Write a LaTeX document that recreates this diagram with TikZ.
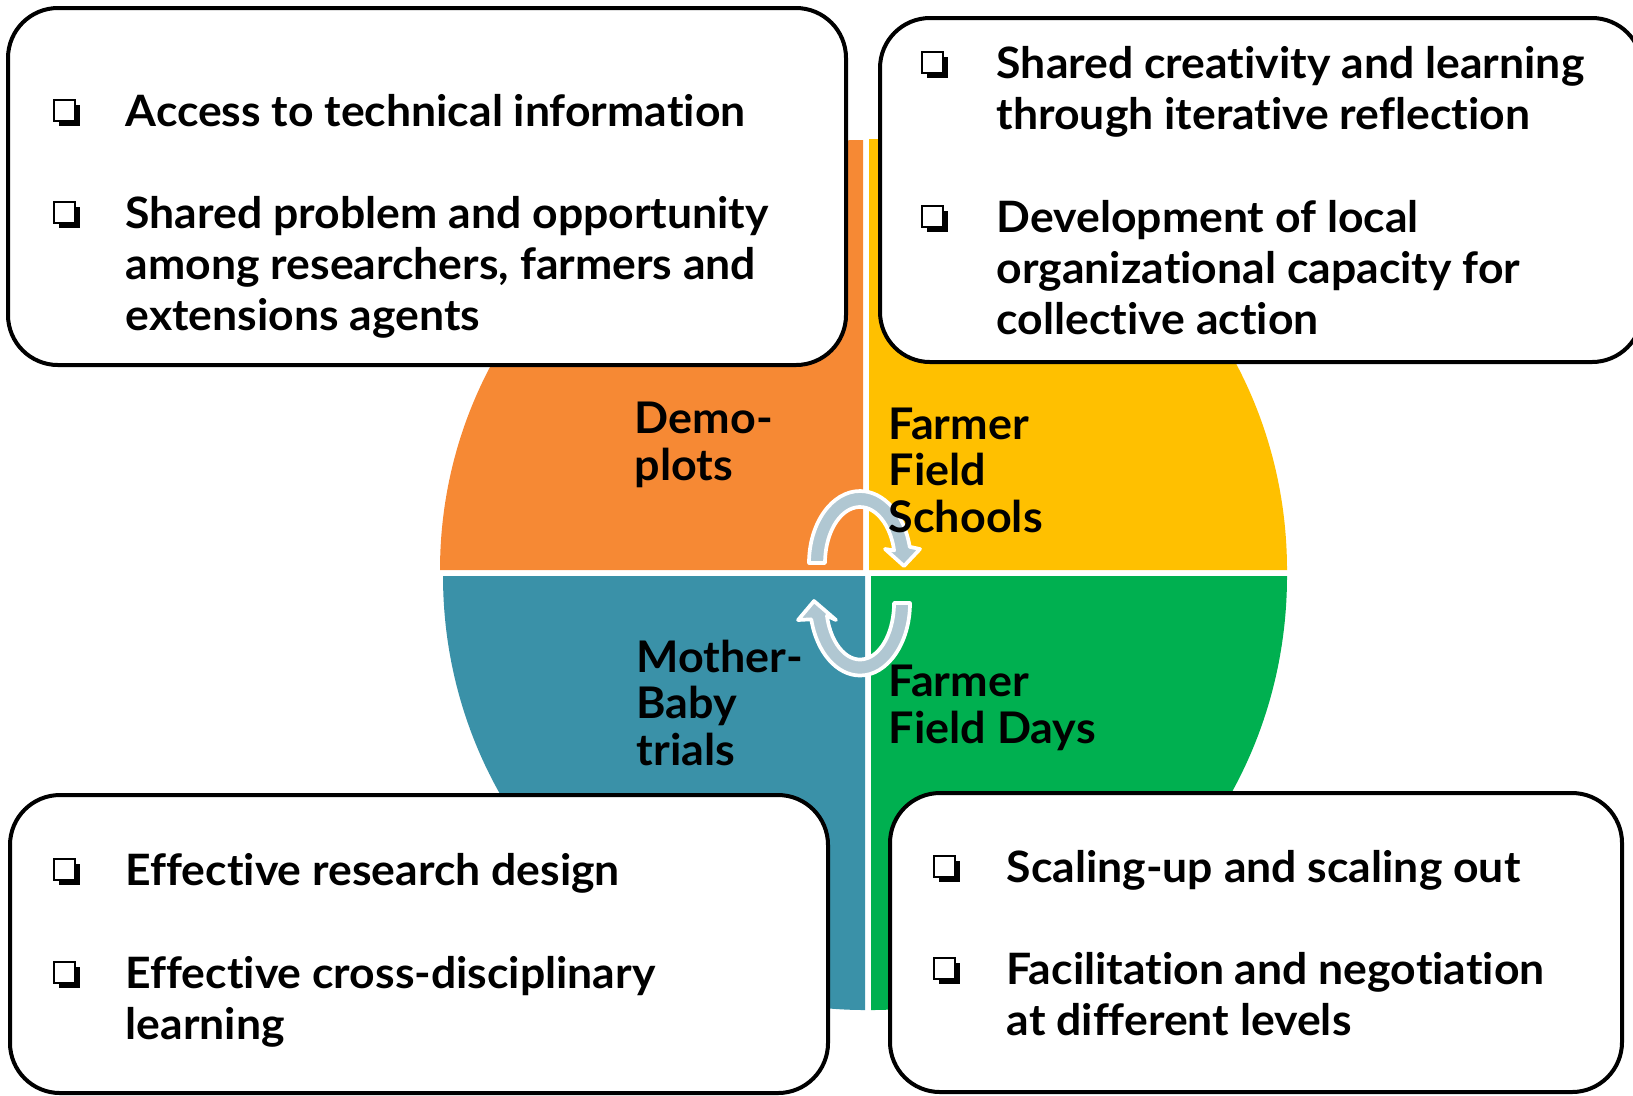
\documentclass[tikz,border=0pt]{standalone}
\usepackage{fontspec}
\setmainfont{Lato}[FakeStretch=1.03, Ligatures=NoCommon]
\usetikzlibrary{positioning,calc}
\definecolor{demo}{RGB}{246,137,52}
\definecolor{ffs}{RGB}{255,192,0}
\definecolor{mbt}{RGB}{58,145,168}
\definecolor{ffd}{RGB}{0,176,80}
\definecolor{cyc}{RGB}{176,199,210}
\tikzset{
  % Define style for the text boxes
  box/.style={
    draw=black, fill=white,
    line width=0.4mm,
    rounded corners=5mm},
  % Define style for the bullet items (placed at the last baseline)
  item/.style={
    anchor=base west, align=left,
    inner sep=0pt,
    font=\bfseries\fontsize{12.3}{14.5}\selectfont},
  % Define style for the quarter labels
  quad/.style={
    anchor=base west, align=left,
    inner sep=0pt,
    font=\bfseries\fontsize{12.4}{13.1}\selectfont},
  % Define style for the cycle arrows
  cycle/.style={
    fill=cyc, draw=white,
    line width=0.37mm, line join=round},
}
% #1 x, #2 baseline
\newcommand\qbox[2]{
  \fill[black] (#1+5,#2-21) rectangle (#1+26,#2);
  \filldraw[fill=white, draw=black, line width=0.25mm] (#1,#2-26) rectangle (#1+21,#2-5);
}

\begin{document}
\begin{tikzpicture}[x=0.1mm, y=-0.1mm]
  \useasboundingbox (0,0) rectangle (1633,1095);
  % quarters
  \fill[demo] (863,570) -- ++(-423,0) arc[start angle=180, end angle=270, x radius=423, y radius=430] -- cycle;
  \fill[ffs] (869,570) -- ++(0,-431) arc[start angle=270, end angle=360, x radius=418, y radius=431] -- cycle;
  \fill[mbt] (865,576) -- ++(0,434) arc[start angle=90, end angle=180, x radius=422, y radius=434] -- cycle;
  \fill[ffd] (871,576) -- ++(416,0) arc[start angle=0, end angle=90, x radius=416, y radius=434] -- cycle;

  % cycle arrows
  \filldraw[cycle] (809,563) arc[start angle=180, end angle=347, x radius=51, y radius=72]
    -- (920,549) -- (904,566) -- (885,549) -- (894.1,550.4)
    arc[start angle=347, end angle=180, x radius=35, y radius=56] -- cycle;
  \filldraw[cycle] (894,603) -- (910,603) arc[start angle=0, end angle=167, x radius=50, y radius=72.5]
    -- (798,620) -- (814,601) -- (836,620) -- (826.9,615.7)
    arc[start angle=167, end angle=0, x radius=34, y radius=56.5] -- cycle;

  % quarter labels
  \node[quad] (demo) at (634,480) {Demo-\\plots};
  \node[quad] (ffs) at (888,532) {Farmer\\Field\\Schools};
  \node[quad] (mbt) at (636,765) {Mother-\\Baby\\trials};
  \node[quad] (ffd) at (888,743) {Farmer\\Field Days};

  % boxes
  \draw[box] (8,8) rectangle (846,365);
  \draw[box] (880,18) rectangle (1642,362);
  \draw[box] (10,795) rectangle (828,1093);
  \draw[box] (890,793) rectangle (1622,1092);

  % top left
  \qbox{54}{126}
  \node[item] (access) at (125,126) {Access to technical information};
  \qbox{54}{228}
  \node[item] (shared) at (125,330) {Shared problem and opportunity\\among researchers, farmers and\\extensions agents};
  % top right
  \qbox{922}{78}
  \node[item] (creativity) at (996,129) {Shared creativity and learning\\through iterative reflection};
  \qbox{922}{232}
  \node[item] (capacity) at (996,334) {Development of local\\organizational capacity for\\collective action};
  % bottom left
  \qbox{54}{885}
  \node[item] (design) at (125,885) {Effective research design};
  \qbox{54}{988}
  \node[item] (learning) at (125,1039) {Effective cross-disciplinary\\learning};
  % bottom right
  \qbox{934}{882}
  \node[item] (scaling) at (1006,882) {Scaling-up and scaling out};
  \qbox{934}{984}
  \node[item] (levels) at (1006,1035) {Facilitation and negotiation\\at different levels};
\end{tikzpicture}
\end{document}
